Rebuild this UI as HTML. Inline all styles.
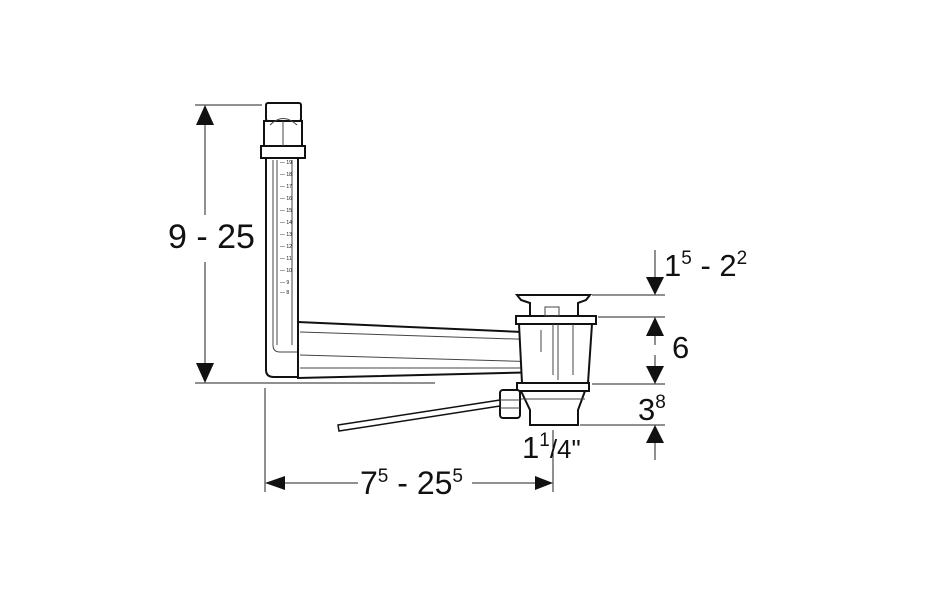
<!DOCTYPE html>
<html><head><meta charset="utf-8"><style>
html,body{margin:0;padding:0;background:#fff;}
svg{display:block;}
text{font-family:"Liberation Sans",Arial,sans-serif;fill:#111;}
</style></head><body>
<svg width="932" height="595" viewBox="0 0 932 595" xmlns="http://www.w3.org/2000/svg">
<g stroke="#222" stroke-width="1" fill="none">
  <!-- left dimension -->
  <line x1="195" y1="105" x2="262" y2="105"/>
  <line x1="195" y1="383" x2="435" y2="383"/>
  <line x1="205" y1="125" x2="205" y2="215"/>
  <line x1="205" y1="262" x2="205" y2="363"/>
  <!-- bottom dimension extension -->
  <line x1="265" y1="388" x2="265" y2="492"/>
  <line x1="553" y1="430" x2="553" y2="492"/>
  <line x1="285" y1="483" x2="358" y2="483"/>
  <line x1="472" y1="483" x2="535" y2="483"/>
  <!-- right dims -->
  <line x1="592" y1="295" x2="665" y2="295"/>
  <line x1="598" y1="317" x2="665" y2="317"/>
  <line x1="592" y1="384" x2="665" y2="384"/>
  <line x1="580" y1="425" x2="665" y2="425"/>
  <line x1="655" y1="250" x2="655" y2="278"/>
  <line x1="655" y1="336" x2="655" y2="345"/>
  <line x1="655" y1="355" x2="655" y2="366"/>
  <line x1="655" y1="443" x2="655" y2="460"/>
</g>
<g fill="#111">
  <polygon points="205,105 196,125 214,125"/>
  <polygon points="205,383 196,363 214,363"/>
  <polygon points="265,483 285,476 285,490"/>
  <polygon points="553,483 535,476 535,490"/>
  <polygon points="655,295 646,277 664,277"/>
  <polygon points="655,317 646,336 664,336"/>
  <polygon points="655,384 646,366 664,366"/>
  <polygon points="655,425 646,443 664,443"/>
</g>
<!-- vertical pipe -->
<g stroke="#111" stroke-width="2" fill="#fff">
  <rect x="266" y="103" width="35" height="18" rx="2"/>
  <rect x="264" y="121" width="38" height="25"/>
  <rect x="261" y="146" width="44" height="12"/>
  <path d="M266 158 L266 370 Q266 377 274 377 L298 377 L298 158 Z"/>
</g>
<g stroke="#444" stroke-width="1" fill="none">
  <line x1="273" y1="160" x2="273" y2="345"/>
  <line x1="277" y1="160" x2="277" y2="345"/>
  <line x1="292" y1="160" x2="292" y2="345"/>
  <path d="M273 345 Q273 352 280 352 L298 352"/>
  <path d="M270 125 Q283 112 297 125"/><line x1="283" y1="121" x2="283" y2="146"/>
</g>
<g font-size="5" fill="#222">
  <text x="280" y="164">— 19</text><text x="280" y="176">— 18</text><text x="280" y="188">— 17</text>
  <text x="280" y="200">— 16</text><text x="280" y="212">— 15</text><text x="280" y="224">— 14</text>
  <text x="280" y="236">— 13</text><text x="280" y="248">— 12</text><text x="280" y="260">— 11</text>
  <text x="280" y="272">— 10</text><text x="280" y="284">— 9</text><text x="280" y="294">— 8</text>
</g>
<!-- horizontal pipe -->
<g stroke="#111" stroke-width="2" fill="#fff">
  <path d="M298 322 L545 333 L545 372 L298 378 Z"/>
</g>
<g stroke="#444" stroke-width="1" fill="none">
  <line x1="300" y1="332" x2="545" y2="340"/>
  <line x1="300" y1="355" x2="545" y2="362"/>
  <line x1="300" y1="368" x2="545" y2="368"/>
</g>
<!-- drain -->
<g stroke="#111" stroke-width="2" fill="#fff">
  <path d="M517 295 L590 295 L586 300 L578 303 L578 316 L530 316 L530 303 L521 300 Z"/>
  <rect x="516" y="316" width="80" height="8"/>
  <path d="M519 324 L592 324 L588 383 L522 383 Z"/>
  <rect x="517" y="383" width="72" height="8"/>
  <path d="M521 391 L585 391 L578 410 L578 425 L530 425 L530 410 Z"/>
  <rect x="500" y="390" width="20" height="28" rx="3"/>
  <path d="M338 425 L500 400 L500 406 L339 431 Z" stroke-width="1.5"/>
</g>
<g stroke="#444" stroke-width="1" fill="none">
  <rect x="545" y="307" width="14" height="9"/>
  <line x1="553" y1="324" x2="553" y2="375"/>
  <line x1="573" y1="324" x2="573" y2="375"/>
  <line x1="558" y1="324" x2="558" y2="380"/>
  <line x1="541" y1="330" x2="541" y2="352"/>
  <line x1="521" y1="399" x2="585" y2="399"/>
  <line x1="500" y1="400" x2="520" y2="400"/><line x1="500" y1="408" x2="520" y2="408"/>
</g>
<!-- labels -->
<text x="168" y="248" font-size="34">9 - 25</text>
<text x="664" y="276" font-size="31">1<tspan font-size="19" dy="-12">5</tspan><tspan dy="12"> - 2</tspan><tspan font-size="19" dy="-12">2</tspan></text>
<text x="672" y="358" font-size="31">6</text>
<text x="638" y="420" font-size="31">3<tspan font-size="19" dy="-12">8</tspan></text>
<text x="522" y="458" font-size="31">1<tspan font-size="19" dy="-12">1</tspan><tspan font-size="26" dy="12">/4"</tspan></text>
<text x="360" y="494" font-size="32">7<tspan font-size="19" dy="-12">5</tspan><tspan dy="12"> - 25</tspan><tspan font-size="19" dy="-12">5</tspan></text>
</svg>
</body></html>
